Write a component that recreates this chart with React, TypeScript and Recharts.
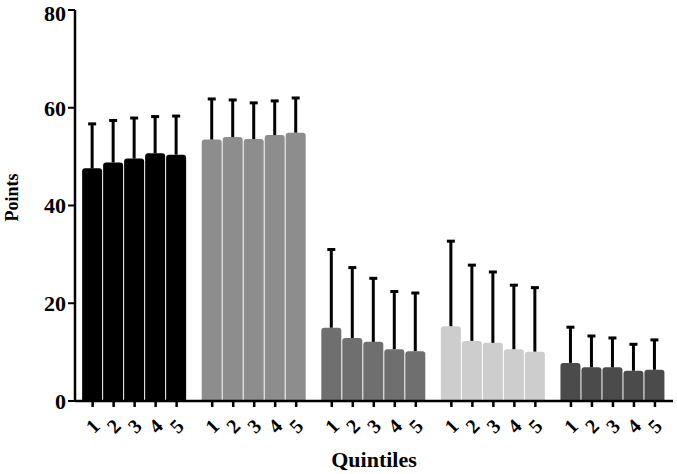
import { BarChart, Bar, XAxis, YAxis, Label } from "recharts";

const QUINTILES = ["1", "2", "3", "4", "5"];

// mean points per quintile, one array per group
const GROUP1_MEAN = [47.6, 48.8, 49.6, 50.7, 50.4];
const GROUP2_MEAN = [53.5, 54.0, 53.6, 54.4, 54.9];
const GROUP3_MEAN = [15.0, 12.9, 12.1, 10.6, 10.2];
const GROUP4_MEAN = [15.3, 12.3, 11.9, 10.6, 10.1];
const GROUP5_MEAN = [7.8, 6.9, 6.9, 6.2, 6.4];

// standard deviations (upper error only)
const GROUP1_SD = [9.1, 8.6, 8.3, 7.5, 7.9];
const GROUP2_SD = [8.3, 7.6, 7.4, 7.0, 7.1];
const GROUP3_SD = [16.0, 14.4, 13.0, 11.8, 11.9];
const GROUP4_SD = [17.4, 15.5, 14.5, 13.1, 13.1];
const GROUP5_SD = [7.3, 6.4, 6.0, 5.4, 6.1];

const Y_TICKS = [0, 20, 40, 60, 80];

const MEANS = [GROUP1_MEAN, GROUP2_MEAN, GROUP3_MEAN, GROUP4_MEAN, GROUP5_MEAN];
const SDS = [GROUP1_SD, GROUP2_SD, GROUP3_SD, GROUP4_SD, GROUP5_SD];
const GROUP_COLORS = ["#000000", "#8d8d8d", "#6f6f6f", "#cdcdcd", "#4b4b4b"];

// one bar slot = 1 unit, groups separated by a smaller gap
const GROUP_STEP = 5.695;

const data = MEANS.flatMap((means, gi) =>
  QUINTILES.map((q, qi) => ({
    pos: gi * GROUP_STEP + qi,
    quintile: q,
    mean: means[qi],
    sd: SDS[gi][qi],
    group: gi,
  }))
);

const FONT = '"Liberation Serif", "Times New Roman", serif';

function BarWithError(props: any) {
  const { x, y, width, height, payload } = props;
  if (!height || height <= 0) return null;
  const fill = GROUP_COLORS[payload.group];
  const r = 3;
  const pxPerUnit = height / payload.mean;
  const errTop = y - payload.sd * pxPerUnit;
  const cx = x + width / 2;
  const d = `M${x},${y + height} L${x},${y + r} Q${x},${y} ${x + r},${y} L${x + width - r},${y} Q${x + width},${y} ${x + width},${y + r} L${x + width},${y + height} Z`;
  return (
    <g>
      <path d={d} fill={fill} />
      <line x1={cx} y1={y} x2={cx} y2={errTop} stroke="#000" strokeWidth={3} />
      <line x1={cx - 4} y1={errTop} x2={cx + 4} y2={errTop} stroke="#000" strokeWidth={3} />
    </g>
  );
}

function QuintileTick(props: any) {
  const { x, y, payload } = props;
  const row = data.find((d) => Math.abs(d.pos - payload.value) < 1e-6);
  const cy = y + 17;
  return (
    <text
      x={x}
      y={cy}
      transform={`rotate(-45, ${x}, ${cy})`}
      textAnchor="middle"
      dominantBaseline="central"
      fontFamily={FONT}
      fontWeight="bold"
      fontSize={20}
      fill="#000"
    >
      {row ? row.quintile : ""}
    </text>
  );
}

function PointsLabel(props: any) {
  const { viewBox } = props;
  const x = 12;
  const y = viewBox.y + viewBox.height / 2 - 8;
  return (
    <text
      x={x}
      y={y}
      transform={`rotate(-90, ${x}, ${y})`}
      textAnchor="middle"
      dominantBaseline="central"
      fontFamily={FONT}
      fontWeight="bold"
      fontSize={18}
      fill="#000"
    >
      Points
    </text>
  );
}

export default function App() {
  return (
    <div style={{ position: "absolute", left: 0, top: 0, background: "#fff" }}>
      <BarChart
        width={677}
        height={474}
        data={data}
        margin={{ top: 10, right: 4, left: 0, bottom: 0 }}
      >
        <XAxis
          dataKey="pos"
          type="number"
          domain={[-0.84, 4 * GROUP_STEP + 4 + 0.86]}
          ticks={data.map((d) => d.pos)}
          interval={0}
          allowDataOverflow
          height={73}
          tick={<QuintileTick />}
          tickSize={6}
          axisLine={{ stroke: "#000", strokeWidth: 2.5 }}
          tickLine={{ stroke: "#000", strokeWidth: 2.5 }}
        >
          <Label
            value="Quintiles"
            position="insideBottom"
            offset={7}
            style={{ fontFamily: FONT, fontWeight: "bold", fontSize: 22, fill: "#000" }}
          />
        </XAxis>
        <YAxis
          domain={[0, 80]}
          ticks={Y_TICKS}
          width={75}
          tickSize={7}
          tickMargin={2}
          axisLine={{ stroke: "#000", strokeWidth: 2.5 }}
          tickLine={{ stroke: "#000", strokeWidth: 2 }}
          tick={{ fontFamily: FONT, fontWeight: "bold", fontSize: 22, fill: "#000" }}
        >
          <Label content={<PointsLabel />} position="insideLeft" />
        </YAxis>
        <Bar dataKey="mean" barSize={20} shape={<BarWithError />} isAnimationActive={false} />
      </BarChart>
    </div>
  );
}
